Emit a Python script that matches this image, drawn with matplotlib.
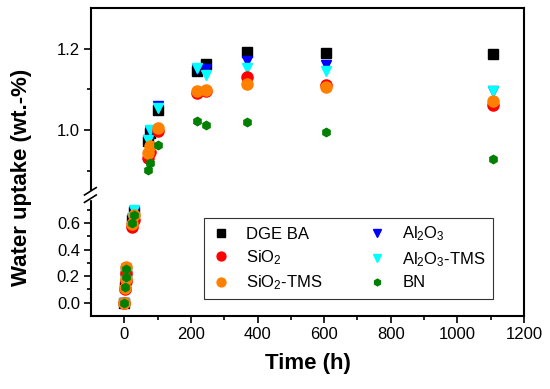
import matplotlib
matplotlib.use("Agg")
import matplotlib.pyplot as plt
import numpy as np

plt.rcParams['font.family'] = ['Liberation Sans', 'DejaVu Sans']
plt.rcParams['mathtext.default'] = 'regular'

# --- data ---
time_h = [0, 2, 4, 6, 24, 28, 70, 76, 101, 218, 246, 368, 607, 1108]

dgeba = [0.0, 0.12, 0.18, 0.24, 0.62, 0.68, 0.972, 0.993, 1.050, 1.144, 1.163, 1.192, 1.189, 1.188]
al2o3 = [0.0, 0.13, 0.19, 0.25, 0.63, 0.69, 0.976, 0.997, 1.060, 1.150, 1.150, 1.169, 1.159, 1.097]
al2o3_tms = [0.0, 0.14, 0.20, 0.26, 0.64, 0.70, 0.976, 1.001, 1.054, 1.153, 1.136, 1.153, 1.146, 1.095]
sio2 = [0.0, 0.10, 0.16, 0.22, 0.57, 0.62, 0.931, 0.945, 0.998, 1.092, 1.097, 1.130, 1.110, 1.061]
sio2_tms = [0.0, 0.11, 0.18, 0.27, 0.59, 0.66, 0.943, 0.960, 1.005, 1.095, 1.099, 1.114, 1.106, 1.072]
bn = [0.0, 0.12, 0.19, 0.25, 0.60, 0.66, 0.902, 0.919, 0.964, 1.023, 1.013, 1.019, 0.995, 0.929]

x_ticks = [0, 200, 400, 600, 800, 1000, 1200]
y_ticks = [0.0, 0.2, 0.4, 0.6, 1.0, 1.2]
y_minor = [0.1, 0.3, 0.5, 0.7, 0.9, 1.1]

# --- broken y axis as a piecewise linear scale ---
brk_in = np.array([-0.1, 0.78, 0.85, 1.3])
brk_out = np.array([0.0, 117.0, 125.1, 308.0])


def _pw(v, xs, ys):
    v = np.asarray(v, dtype=float)
    out = np.interp(v, xs, ys)
    lo = v < xs[0]
    hi = v > xs[-1]
    out = np.where(lo, ys[0] + (v - xs[0]) * (ys[1] - ys[0]) / (xs[1] - xs[0]), out)
    out = np.where(hi, ys[-1] + (v - xs[-1]) * (ys[-1] - ys[-2]) / (xs[-1] - xs[-2]), out)
    return out


def fwd(v):
    return _pw(v, brk_in, brk_out)


def inv(v):
    return _pw(v, brk_out, brk_in)


fig = plt.figure(figsize=(5.5, 3.89), dpi=100)
ax = fig.add_axes([91 / 550, 73 / 389, 433 / 550, 308 / 389])
ax.set_yscale('function', functions=(fwd, inv))

s_dg, = ax.plot(time_h, dgeba, 's', color='black', ms=7, ls='none', label='DGE BA')
s_al, = ax.plot(time_h, al2o3, 'v', color='#0000FF', ms=7.5, ls='none', label='Al$_2$O$_3$')
s_alt, = ax.plot(time_h, al2o3_tms, 'v', color='#00FFFF', ms=7.5, ls='none', label='Al$_2$O$_3$-TMS')
s_si, = ax.plot(time_h, sio2, 'o', color='#FF0000', ms=8, ls='none', label='SiO$_2$')
s_sit, = ax.plot(time_h, sio2_tms, 'o', color='#FF8000', ms=8, ls='none', label='SiO$_2$-TMS')
s_bn, = ax.plot(time_h, bn, 'h', color='#008000', ms=6, ls='none', label='BN')

ax.set_xlim(-100, 1200)
ax.set_ylim(-0.1, 1.3)
ax.set_xticks(x_ticks)
ax.set_xticks([100, 300, 500, 700, 900, 1100], minor=True)
ax.set_yticks(y_ticks)
ax.set_yticklabels(['0.0', '0.2', '0.4', '0.6', '1.0', '1.2'])
ax.set_yticks(y_minor, minor=True)
ax.yaxis.set_minor_formatter(plt.NullFormatter())

ax.tick_params(which='major', direction='out', length=5, width=1.2, labelsize=12, pad=3)
ax.tick_params(which='minor', direction='out', length=3, width=1.2)
for sp in ax.spines.values():
    sp.set_linewidth(1.5)

# break marks on the left spine
yb = 121.0 / 308
ax.add_patch(plt.Rectangle((-0.02, yb - 0.012), 0.04, 0.024, transform=ax.transAxes,
                           color='white', clip_on=False, zorder=5))
for dy in (-0.012, 0.012):
    ax.plot([-0.015, 0.012], [yb + dy - 0.012, yb + dy + 0.012], color='black', lw=1.2,
            transform=ax.transAxes, clip_on=False, zorder=6)

ax.set_xlabel('Time (h)', fontsize=16, fontweight='bold', labelpad=8)
ax.set_ylabel('Water uptake (wt.-%)', fontsize=16, fontweight='bold')
ax.yaxis.set_label_coords(-0.136, 0.45)

handles = [s_dg, s_si, s_sit, s_al, s_alt, s_bn]
leg = ax.legend(handles=handles, labels=[h.get_label() for h in handles], ncol=2,
                loc='lower left', bbox_to_anchor=(0.261, 0.055, 0.667, 0.27), mode='expand',
                borderaxespad=0, fontsize=12, frameon=True, fancybox=False, edgecolor='black',
                handlelength=1.2, handletextpad=0.9, columnspacing=1.0, labelspacing=0.4,
                borderpad=0.4, markerscale=0.8)
leg.get_frame().set_linewidth(0.8)

fig.savefig('out.png', dpi=100)
